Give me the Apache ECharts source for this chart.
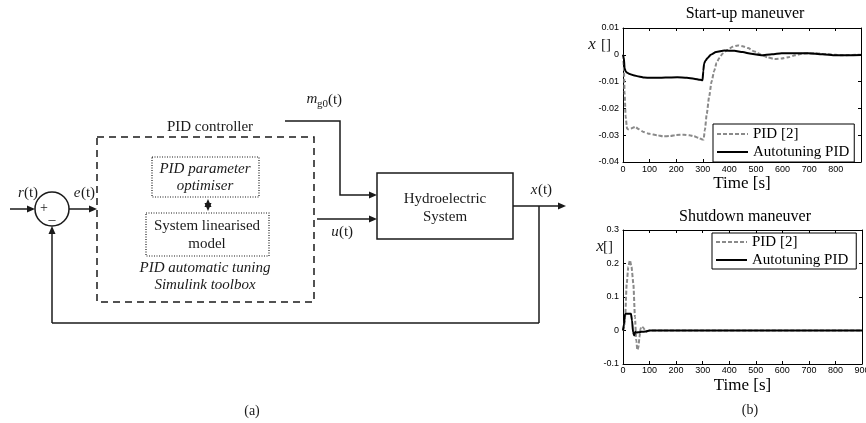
<!DOCTYPE html>
<html>
<head>
<meta charset="utf-8">
<script src="https://cdn.jsdelivr.net/npm/echarts@6/dist/echarts.min.js"></script>
<style>
  html, body { margin: 0; padding: 0; background: #fff; }
  #chart { width: 866px; height: 423px; }
</style>
</head>
<body>
<div id="chart"></div>
<script>
// start-up maneuver (top plot)
const startTimePid = [0, 3, 6, 10, 15, 20, 30, 46, 60, 77, 100, 128, 150, 178, 200, 229, 250, 267, 285, 298, 303, 308, 315, 324, 333, 343, 352, 362, 375, 394, 412, 432, 450, 470, 495, 520, 545, 571, 597, 622, 647, 672, 697, 723, 748, 773, 800, 824, 850, 875, 895];
const startPid = [0, -0.004, -0.014, -0.023, -0.0275, -0.0278, -0.0275, -0.0269, -0.0278, -0.0288, -0.0295, -0.03, -0.0304, -0.0303, -0.0299, -0.0298, -0.03, -0.0304, -0.031, -0.0316, -0.0316, -0.028, -0.022, -0.0156, -0.01, -0.006, -0.003, -0.0012, 0.0005, 0.0019, 0.003, 0.0035, 0.0032, 0.0025, 0.0012, 0, -0.001, -0.0016, -0.0014, -0.0009, -0.0002, 0.0004, 0.0006, 0.0006, 0.0004, 0.0002, 0, -0.0002, -0.0001, 0, 0];
const startTimeAuto = [0, 3, 6, 10, 14, 25, 39, 60, 80, 103, 130, 160, 204, 240, 267, 290, 299, 302, 305, 310, 318, 330, 350, 381, 419, 450, 482, 520, 560, 596, 640, 697, 750, 799, 850, 895];
const startAuto = [0, -0.001, -0.005, -0.0062, -0.0066, -0.0072, -0.0076, -0.0081, -0.0085, -0.0086, -0.0086, -0.0085, -0.0084, -0.0086, -0.0089, -0.0093, -0.0095, -0.006, -0.0032, -0.0022, -0.0012, 0, 0.001, 0.0016, 0.0015, 0.001, 0.0004, -0.0002, 0.0002, 0.0006, 0.0006, 0.0006, 0.0002, -0.0002, -0.0002, -0.0001];

// shutdown maneuver (bottom plot)
const shutTimePid = [0, 4, 8, 14, 20, 26, 32, 39, 45, 50, 54, 58, 62, 66, 70, 75, 80, 89, 95, 102, 150, 300, 500, 700, 900];
const shutPid = [0, 0.01, 0.04, 0.14, 0.19, 0.21, 0.19, 0.14, 0.04, -0.03, -0.058, -0.05, -0.02, 0.005, 0.012, 0.01, 0.004, -0.003, -0.001, 0, 0, 0, 0, 0, 0];
const shutTimeAuto = [0, 4, 7, 10, 20, 30, 34, 38, 42, 46, 52, 60, 70, 85, 100, 150, 900];
const shutAuto = [0, 0.02, 0.048, 0.05, 0.05, 0.05, 0.03, -0.005, -0.015, -0.004, -0.006, -0.005, -0.004, -0.003, 0, 0, 0];

const seriesNames = ["PID [2]", "Autotuning PID"];

const serif = "Liberation Serif";
const sans = "Liberation Sans";
const ink = "#1a1a1a";

const zip = (xs, ys) => xs.map((x, i) => [x, ys[i]]);

//坐标轴 (MATLAB style box, ticks inside)
const boxAxis = (gridIndex, position, extra) => Object.assign({
  type: "value",
  gridIndex,
  position,
  axisLine: { show: true, onZero: false, lineStyle: { color: "#000", width: 1 } },
  axisTick: { show: true, inside: true, length: 3, lineStyle: { color: "#000" } },
  axisLabel: { show: false },
  splitLine: { show: false },
}, extra);

const tickLabel = (margin) => ({
  show: true, margin, color: "#000", fontFamily: sans, fontSize: 9,
});

//方框图 helpers
const lw = 1.5;
const line = (x1, y1, x2, y2) => ({
  type: "line",
  shape: { x1, y1, x2, y2 },
  style: { stroke: ink, lineWidth: lw },
});
const head = (x, y, dir) => {
  const L = 8, W = 3.5;
  let pts;
  if (dir === "right") pts = [[x, y], [x - L, y - W], [x - L, y + W]];
  else if (dir === "up") pts = [[x, y], [x - W, y + L], [x + W, y + L]];
  else pts = [[x, y], [x - W, y - L], [x + W, y - L]];
  return { type: "polygon", shape: { points: pts }, style: { fill: ink } };
};
const text = (x, y, str, size, italic, align) => ({
  type: "text",
  x, y,
  style: {
    text: str,
    font: (italic ? "italic " : "") + size + "px '" + serif + "'",
    fill: ink,
    textAlign: align || "center",
    textVerticalAlign: "middle",
    align: align || "center",
    verticalAlign: "middle",
  },
});
const box = (x, y, w, h, dash, width) => ({
  type: "rect",
  shape: { x, y, width: w, height: h },
  style: { fill: "none", stroke: ink, lineWidth: width || lw, lineDash: dash || null },
});

const diagram = [
  // summing junction
  { type: "circle", shape: { cx: 52, cy: 209, r: 17 }, style: { fill: "none", stroke: ink, lineWidth: lw } },
  text(44, 208, "+", 14),
  text(52, 220, "\u2013", 14),
  line(10, 209, 33, 209), head(35, 209, "right"),
  line(69, 209, 94, 209), head(97, 209, "right"),
  // feedback
  line(52, 323, 52, 230), head(52, 226, "up"),
  line(52, 323, 539, 323),
  line(539, 323, 539, 206),
  // output
  line(513, 206, 560, 206), head(566, 206, "right"),
  // PID controller
  box(97, 137, 217, 165, [7, 5]),
  text(210, 127, "PID controller", 15),
  box(152, 157, 107, 40, [1, 1.5], 1.2),
  text(205, 169, "PID parameter", 15, true),
  text(205, 186, "optimiser", 15, true),
  line(208, 202, 208, 208), head(208, 199, "up"), head(208, 211, "down"),
  box(146, 213, 123, 43, [1, 1.5], 1.2),
  text(207, 226, "System linearised", 15),
  text(207, 244, "model", 15),
  text(205, 268, "PID automatic tuning", 15, true),
  text(205, 285, "Simulink toolbox", 15, true),
  // m_g0 input
  { type: "polyline", shape: { points: [[285, 121], [340, 121], [340, 195], [370, 195]] }, style: { stroke: ink, lineWidth: lw, fill: null } },
  head(377, 195, "right"),
  // u input
  line(317, 219, 370, 219), head(377, 219, "right"),
  // plant
  box(377, 173, 136, 66),
  text(445, 199, "Hydroelectric", 15),
  text(445, 217, "System", 15),
  // labels
  text(21, 193, "r", 15, true), text(31, 193, "(t)", 15),
  text(77, 193, "e", 15, true), text(88, 193, "(t)", 15),
  text(312, 99, "m", 15, true), text(317, 104, "g0", 11, false, "left"), text(335, 100, "(t)", 15),
  text(335, 232, "u", 15, true), text(346, 232, "(t)", 15),
  text(534, 190, "x", 15, true), text(545, 190, "(t)", 15),
  text(252, 411, "(a)", 14),
  text(750, 410, "(b)", 14),
  // y axis labels of the plots
  text(592, 45, "x", 17, true), text(606, 45, "[]", 15),
  text(600, 247, "x", 17, true), text(608, 247, "[]", 15),
];

const chart = echarts.init(document.getElementById("chart"), null, { renderer: "canvas" });

const lineSeries = (name, data, xi, yi) => ({
  name,
  type: "line",
  xAxisIndex: xi,
  yAxisIndex: yi,
  data,
  symbol: "none",
  smooth: 0.2,
  smoothMonotone: "x",
  lineStyle: name === seriesNames[0]
    ? { color: "#8a8a8a", width: 2, type: [4, 2] }
    : { color: "#000", width: 2 },
  itemStyle: { color: name === seriesNames[0] ? "#8a8a8a" : "#000" },
  z: name === seriesNames[0] ? 2 : 3,
});

const legendBase = {
  orient: "vertical",
  data: seriesNames,
  itemWidth: 31,
  itemHeight: 14,
  itemGap: 2,
  borderColor: "#000",
  borderWidth: 1,
  borderRadius: 0,
  backgroundColor: "#fff",
  selectedMode: false,
  itemStyle: { opacity: 0 },
  textStyle: { fontFamily: serif, fontSize: 15, color: "#000", lineHeight: 16 },
};

chart.setOption({
  animation: false,
  backgroundColor: "#fff",
  title: [
    { text: "Start-up maneuver", left: 745, top: 6, textAlign: "center", padding: 0,
      textStyle: { fontFamily: serif, fontSize: 16, fontWeight: "normal", color: "#000" } },
    { text: "Shutdown maneuver", left: 745, top: 209, textAlign: "center", padding: 0,
      textStyle: { fontFamily: serif, fontSize: 16, fontWeight: "normal", color: "#000" } },
  ],
  legend: [
    Object.assign({}, legendBase, { left: 713, top: 124, padding: [2, 5, 2, 3] }),
    Object.assign({}, legendBase, { left: 712, top: 233, padding: [1, 8, 1, 3] }),
  ],
  grid: [
    { left: 623, top: 28, width: 238, height: 134, outerBoundsMode: "none", containLabel: false },
    { left: 623, top: 230, width: 239, height: 134, outerBoundsMode: "none", containLabel: false },
  ],
  xAxis: [
    boxAxis(0, "bottom", {
      min: 0, max: 895, interval: 100,
      axisLabel: Object.assign(tickLabel(3), { showMaxLabel: false }),
      name: "Time [s]", nameLocation: "middle", nameGap: 12,
      nameTextStyle: { fontFamily: serif, fontSize: 17, color: "#000", verticalAlign: "top" },
    }),
    boxAxis(0, "top", { min: 0, max: 895, interval: 100 }),
    boxAxis(1, "bottom", {
      min: 0, max: 900, interval: 100,
      axisLabel: tickLabel(2),
      name: "Time [s]", nameLocation: "middle", nameGap: 13,
      nameTextStyle: { fontFamily: serif, fontSize: 17, color: "#000", verticalAlign: "top" },
    }),
    boxAxis(1, "top", { min: 0, max: 900, interval: 100 }),
  ],
  yAxis: [
    boxAxis(0, "left", { min: -0.04, max: 0.01, interval: 0.01, axisLabel: tickLabel(4) }),
    boxAxis(0, "right", { min: -0.04, max: 0.01, interval: 0.01 }),
    boxAxis(1, "left", { min: -0.1, max: 0.3, interval: 0.1, axisLabel: tickLabel(4) }),
    boxAxis(1, "right", { min: -0.1, max: 0.3, interval: 0.1 }),
  ],
  series: [
    lineSeries(seriesNames[0], zip(startTimePid, startPid), 0, 0),
    lineSeries(seriesNames[1], zip(startTimeAuto, startAuto), 0, 0),
    lineSeries(seriesNames[0], zip(shutTimePid, shutPid), 2, 2),
    lineSeries(seriesNames[1], zip(shutTimeAuto, shutAuto), 2, 2),
  ],
  graphic: diagram,
});
</script>
</body>
</html>
